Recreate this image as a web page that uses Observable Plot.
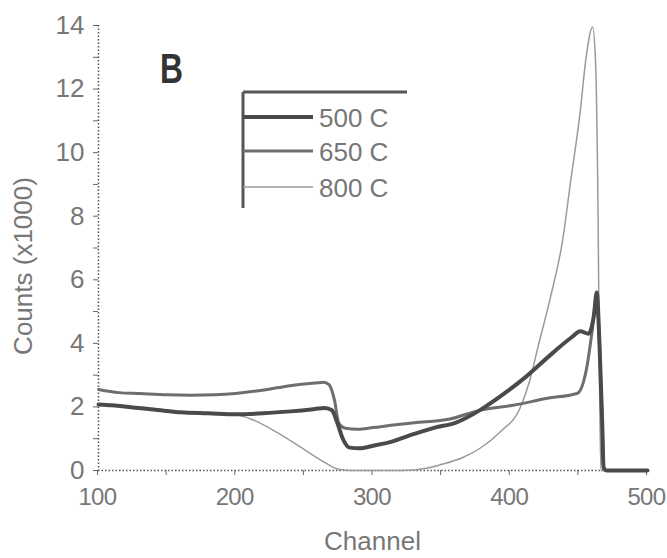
<!DOCTYPE html>
<html><head><meta charset="utf-8">
<script src="https://cdn.jsdelivr.net/npm/d3@7"></script>
<script src="https://cdn.jsdelivr.net/npm/@observablehq/plot@0.6"></script>
<style>
body{margin:0;background:#fff;}
#wrap{position:relative;width:667px;height:558px;font-family:"Liberation Sans",Arial,sans-serif;}
#overlay{position:absolute;left:0;top:0;pointer-events:none;}
g[aria-label="x-axis tick label"] text{letter-spacing:-0.6px;}
</style></head><body><div id="wrap"></div>
<script>
const series = ["500 C", "650 C", "800 C"];
const panelLabel = "B";
const xTitle = "Channel";
const yTitle = "Counts (x1000)";
const xTicks = [100,150,200,250,300,350,400,450,500];
const yTicks = [0,1,2,3,4,5,6,7,8,9,10,11,12,13,14];

const ch500 = [100,110,125,140,160,180,200,220,240,255,265,270,274,278,283,290,300,313,330,345,360,378,395,412,431,445,451,457,461,463,465,467,468,470,500];
const v500  = [2.08,2.05,1.98,1.92,1.83,1.8,1.77,1.8,1.86,1.92,1.97,1.9,1.5,1.0,0.72,0.7,0.78,0.9,1.15,1.35,1.5,1.9,2.4,2.97,3.7,4.2,4.38,4.3,4.9,5.6,4.0,1.5,0.1,0,0];
const ch650 = [100,115,130,150,167,185,200,215,230,245,258,264,268,272,275,280,289,300,313,330,356,378,402,427,449,456,460,463,465,467,468,470,500];
const v650  = [2.55,2.45,2.42,2.38,2.37,2.38,2.42,2.5,2.6,2.7,2.75,2.78,2.7,2.2,1.5,1.33,1.3,1.35,1.42,1.5,1.62,1.9,2.05,2.27,2.43,3.3,4.5,5.5,4.0,1.5,0.1,0,0];
const ch800 = [100,125,160,190,200,211,230,252,265,275,285,320,340,349,365,378,393,407,414,420,429,438,444,451,455,460,462,464,465,466,500];
const v800  = [2.08,1.98,1.83,1.78,1.75,1.62,1.2,0.6,0.25,0.04,0,0,0.08,0.18,0.4,0.7,1.23,1.95,2.8,3.85,5.4,7.2,9.1,11.3,12.9,13.95,13.0,8,3,0,0];

const chans = [ch500, ch650, ch800];
const vals = [v500, v650, v800];
const strokes = ["#4a4a4a", "#6e6e6e", "#9a9a9a"];
const widths = [4, 3, 1.5];

const rows = [];
series.forEach((s, i) => chans[i].forEach((c, j) => rows.push({series: s, ch: c, v: vals[i][j]})));

const W = 667, H = 558, mL = 98, mR = 20, mT = 25, mB = 88;
const font = "Liberation Sans, Arial, sans-serif";

const plot = Plot.plot({
  width: W, height: H, marginLeft: mL, marginRight: mR, marginTop: mT, marginBottom: mB,
  style: {fontFamily: font, fontSize: "26px", color: "#777", background: "#fff"},
  x: {domain: [100, 500]},
  y: {domain: [0, 14]},
  marks: [
    Plot.axisX({ticks: xTicks, tickFormat: d => d % 100 === 0 ? d : "", tickSize: 5, tickPadding: 12, label: null, stroke: "#666", fontSize: 24, dx: -1}),
    Plot.axisY({ticks: yTicks, tickFormat: d => d % 2 === 0 ? d : "", tickSize: 5, tickPadding: 9, label: null, stroke: "#666"}),
    Plot.ruleY([0], {stroke: "#555", strokeWidth: 1.5, strokeDasharray: "1.5,2"}),
    Plot.ruleX([100], {stroke: "#555", strokeWidth: 1.5, strokeDasharray: "1.5,2"}),
    ...[2, 1, 0].map(i => Plot.line(rows.filter(r => r.series === series[i]), {
      x: "ch", y: "v", stroke: strokes[i], strokeWidth: widths[i], strokeLinejoin: "round", curve: "monotone-x"
    }))
  ]
});

const wrap = document.getElementById("wrap");
wrap.appendChild(plot);

// overlay: panel label, axis titles, legend
const svg = d3.select(wrap).append("svg").attr("id", "overlay")
  .attr("width", W).attr("height", H).attr("font-family", font);

svg.append("text").attr("x", 160).attr("y", 83).attr("font-size", 42).attr("font-weight", "bold")
  .attr("fill", "#333").attr("textLength", 23).attr("lengthAdjust", "spacingAndGlyphs").text(panelLabel);

svg.append("text").attr("x", (mL + W - mR) / 2).attr("y", 550).attr("text-anchor", "middle")
  .attr("font-size", 26).attr("fill", "#777").text(xTitle);

svg.append("text").attr("transform", "translate(32,266) rotate(-90)").attr("text-anchor", "middle")
  .attr("font-size", 26).attr("fill", "#777").text(yTitle);

// legend box (top and left edges, as in the scan)
const lx = 243, ly = 92;
svg.append("line").attr("x1", lx).attr("x2", 407).attr("y1", ly).attr("y2", ly)
  .attr("stroke", "#555").attr("stroke-width", 3);
svg.append("line").attr("x1", lx).attr("x2", lx).attr("y1", ly).attr("y2", 208)
  .attr("stroke", "#555").attr("stroke-width", 3);
const entryY = [117, 151, 187];
series.forEach((s, i) => {
  svg.append("line").attr("x1", lx).attr("x2", 313).attr("y1", entryY[i]).attr("y2", entryY[i])
    .attr("stroke", strokes[i]).attr("stroke-width", widths[i]);
  svg.append("text").attr("x", 319).attr("y", entryY[i] + 10).attr("font-size", 26)
    .attr("fill", "#777").text(s);
});
</script>
</body></html>
